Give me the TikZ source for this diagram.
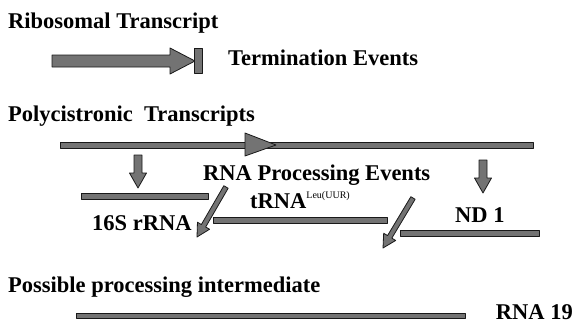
\documentclass[tikz,border=0pt]{standalone}
\usepackage{fontspec}
\setmainfont{Liberation Serif}
\usetikzlibrary{calc}

% shaded block arrow: start, tip, shaft half width, head half width, head length
\newcommand{\blockarrow}[5]{%
  \coordinate (neck) at ($(#2)!#5!(#1)$);
  \draw[rnashade] ($(#1)!#3!90:(#2)$) -- ($(neck)!#3!90:(#2)$) -- ($(neck)!#4!90:(#2)$)
    -- (#2) -- ($(neck)!#4!-90:(#2)$) -- ($(neck)!#3!-90:(#2)$) -- ($(#1)!#3!-90:(#2)$) -- cycle;}

\begin{document}
\begin{tikzpicture}[x=1pt, y=-1pt, line join=round,
    font=\fontsize{22.5}{26}\selectfont\bfseries,
    rnashade/.style={fill=black!55, draw=black!90, line width=0.8pt},
    lbl/.style={anchor=base west, inner sep=0pt}]
  \useasboundingbox (0,0) rectangle (576,324);

  % headings and labels
  \node[lbl] (ribo) at (8,28) {Ribosomal Transcript};
  \node[lbl] (term) at (228,65) {Termination Events};
  \node[lbl] (poly) at (8,121) {Polycistronic\ \ Transcripts};
  \node[lbl] (proc) at (203,180) {RNA Processing Events};
  \node[lbl] (trna) at (250,208) {tRNA\raisebox{10pt}{\fontsize{10}{10}\selectfont\mdseries Leu(UUR)}};
  \node[lbl] (s16) at (92,230) {16S rRNA};
  \node[lbl] (nd1) at (455,222) {ND 1};
  \node[lbl] (inter) at (8,292) {Possible processing intermediate};
  \node[lbl, anchor=base east] (rna19) at (573,319) {RNA 19};

  % ribosomal transcript and its stop
  \coordinate (riboA) at (52,61);
  \coordinate (riboB) at (195,61);
  \blockarrow{riboA}{riboB}{6pt}{13pt}{25pt}
  \draw[rnashade] (194,48) rectangle (202,73);

  % polycistronic transcript
  \draw[rnashade] (60,142) rectangle (533,148);
  \draw[rnashade] (245,133) -- (276,145) -- (245,156) -- cycle;

  % cuts
  \coordinate (cutA) at (138,155);  \coordinate (cutB) at (138,188);
  \coordinate (cutC) at (483,160);  \coordinate (cutD) at (483,193);
  \blockarrow{cutA}{cutB}{4pt}{8.5pt}{15pt}
  \blockarrow{cutC}{cutD}{4pt}{8.5pt}{15pt}
  \coordinate (diagA) at (226,187); \coordinate (diagB) at (197,237);
  \coordinate (diagC) at (413,198); \coordinate (diagD) at (383,248);
  \blockarrow{diagA}{diagB}{2.5pt}{7pt}{13pt}
  \blockarrow{diagC}{diagD}{2.5pt}{7pt}{13pt}

  % processed pieces
  \draw[rnashade] (81,193) rectangle (208,199);
  \draw[rnashade] (213,217) rectangle (387,223);
  \draw[rnashade] (400,230) rectangle (539,236);
  \draw[rnashade] (76,313) rectangle (465,318);
\end{tikzpicture}
\end{document}
